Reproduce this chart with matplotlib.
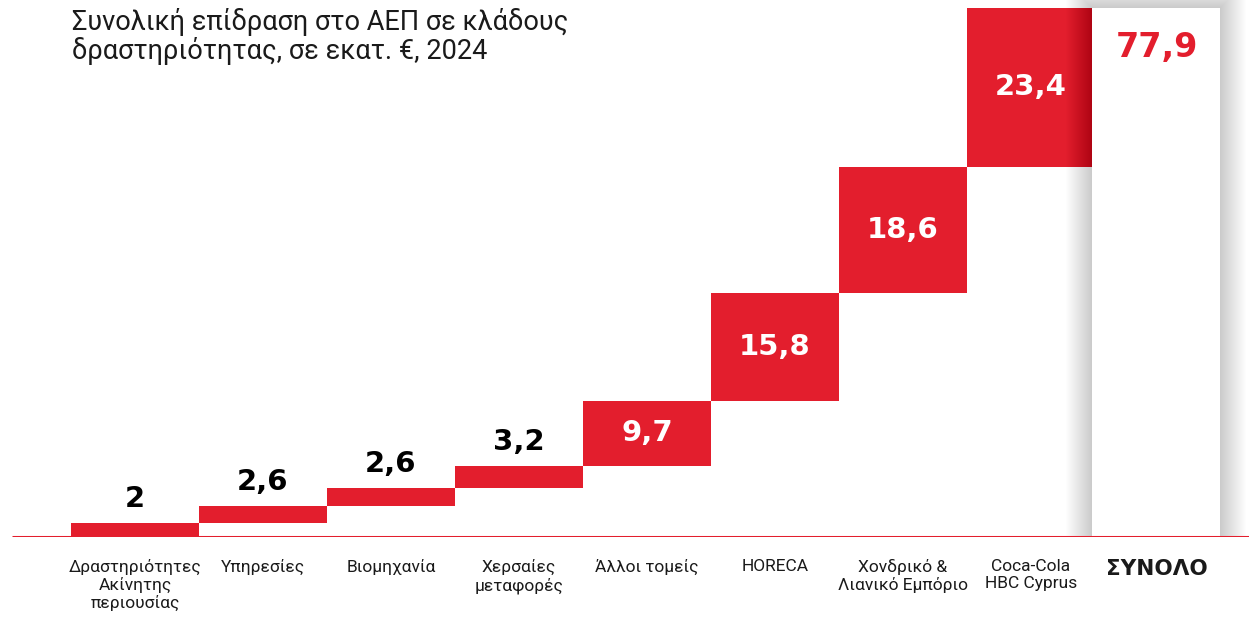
import numpy as np
import matplotlib.pyplot as plt
from matplotlib.patches import Rectangle

# δεδομένα
categories = ['Δραστηριότητες\nΑκίνητης\nπεριουσίας', 'Υπηρεσίες', 'Βιομηχανία',
              'Χερσαίες\nμεταφορές', 'Άλλοι τομείς', 'HORECA',
              'Χονδρικό &\nΛιανικό Εμπόριο', 'Coca-Cola\nHBC Cyprus']
values = [2, 2.6, 2.6, 3.2, 9.7, 15.8, 18.6, 23.4]
labels = ['2', '2,6', '2,6', '3,2', '9,7', '15,8', '18,6', '23,4']
total_label = 'ΣΥΝΟΛΟ'
total_value = 77.9
total_text = '77,9'
title = 'Συνολική επίδραση στο ΑΕΠ σε κλάδους\nδραστηριότητας, σε εκατ. €, 2024'

red = '#E31E2D'
plt.rcParams['font.family'] = ['Roboto', 'DejaVu Sans']

fig = plt.figure(figsize=(12.49, 6.21), dpi=100)
ax = fig.add_axes([0, 84/621, 1, 537/621])
px = 128.0   # pixels ανά στήλη
py = 529 / total_value  # pixels ανά μονάδα
ax.set_xlim(-0.5 - 71/px, -0.5 + (1249 - 71)/px)
ax.set_ylim(0, 537/py)
ax.axis('off')

n = len(values)
x = np.arange(n)
bottoms = np.concatenate([[0], np.cumsum(values)[:-1]])
ax.bar(x, values, bottom=bottoms, width=1.0, color=red, zorder=2)

# σκιά της στήλης συνόλου
xc = n - 0.02
for k in range(26):
    d = 26 - k
    ax.add_patch(Rectangle((xc - 0.5 - d/px, -d/py), 1 + 2*d/px, total_value + 2*d/py,
                           facecolor='black', alpha=0.008, lw=0, zorder=3))
ax.bar(xc, total_value, width=1.0, color='white', zorder=4)

# γραμμή βάσης
ax.plot([-0.5 - 59/px, 8.72], [0, 0], color=red, lw=2.2, zorder=5, solid_capstyle='butt')

for i in range(n):
    if values[i] < 5:
        ax.text(x[i], bottoms[i] + values[i] + 24/py, labels[i], ha='center', va='center',
                fontsize=21, fontweight='bold', color='black', family='DejaVu Sans')
    else:
        ax.text(x[i], bottoms[i] + values[i]/2, labels[i], ha='center', va='center',
                fontsize=21, fontweight='bold', color='white', zorder=6, family='DejaVu Sans')
ax.text(xc, total_value - 39/py, total_text, ha='center', va='center',
        fontsize=24, fontweight='bold', color=red, zorder=6, family='DejaVu Sans')

for i in range(n):
    ax.text(x[i], -22/py, categories[i], ha='center', va='top', fontsize=12.5,
            color='#1a1a1a', linespacing=1.15)
ax.text(xc, -22/py, total_label, ha='center', va='top', fontsize=15.5,
        fontweight='bold', color='#1a1a1a', family='DejaVu Sans')

fig.text(72/1249, 1 - 8/621, title, ha='left', va='top', fontsize=19.5,
         color='#1a1a1a', linespacing=1.05)

fig.savefig('out.png', dpi=100)
